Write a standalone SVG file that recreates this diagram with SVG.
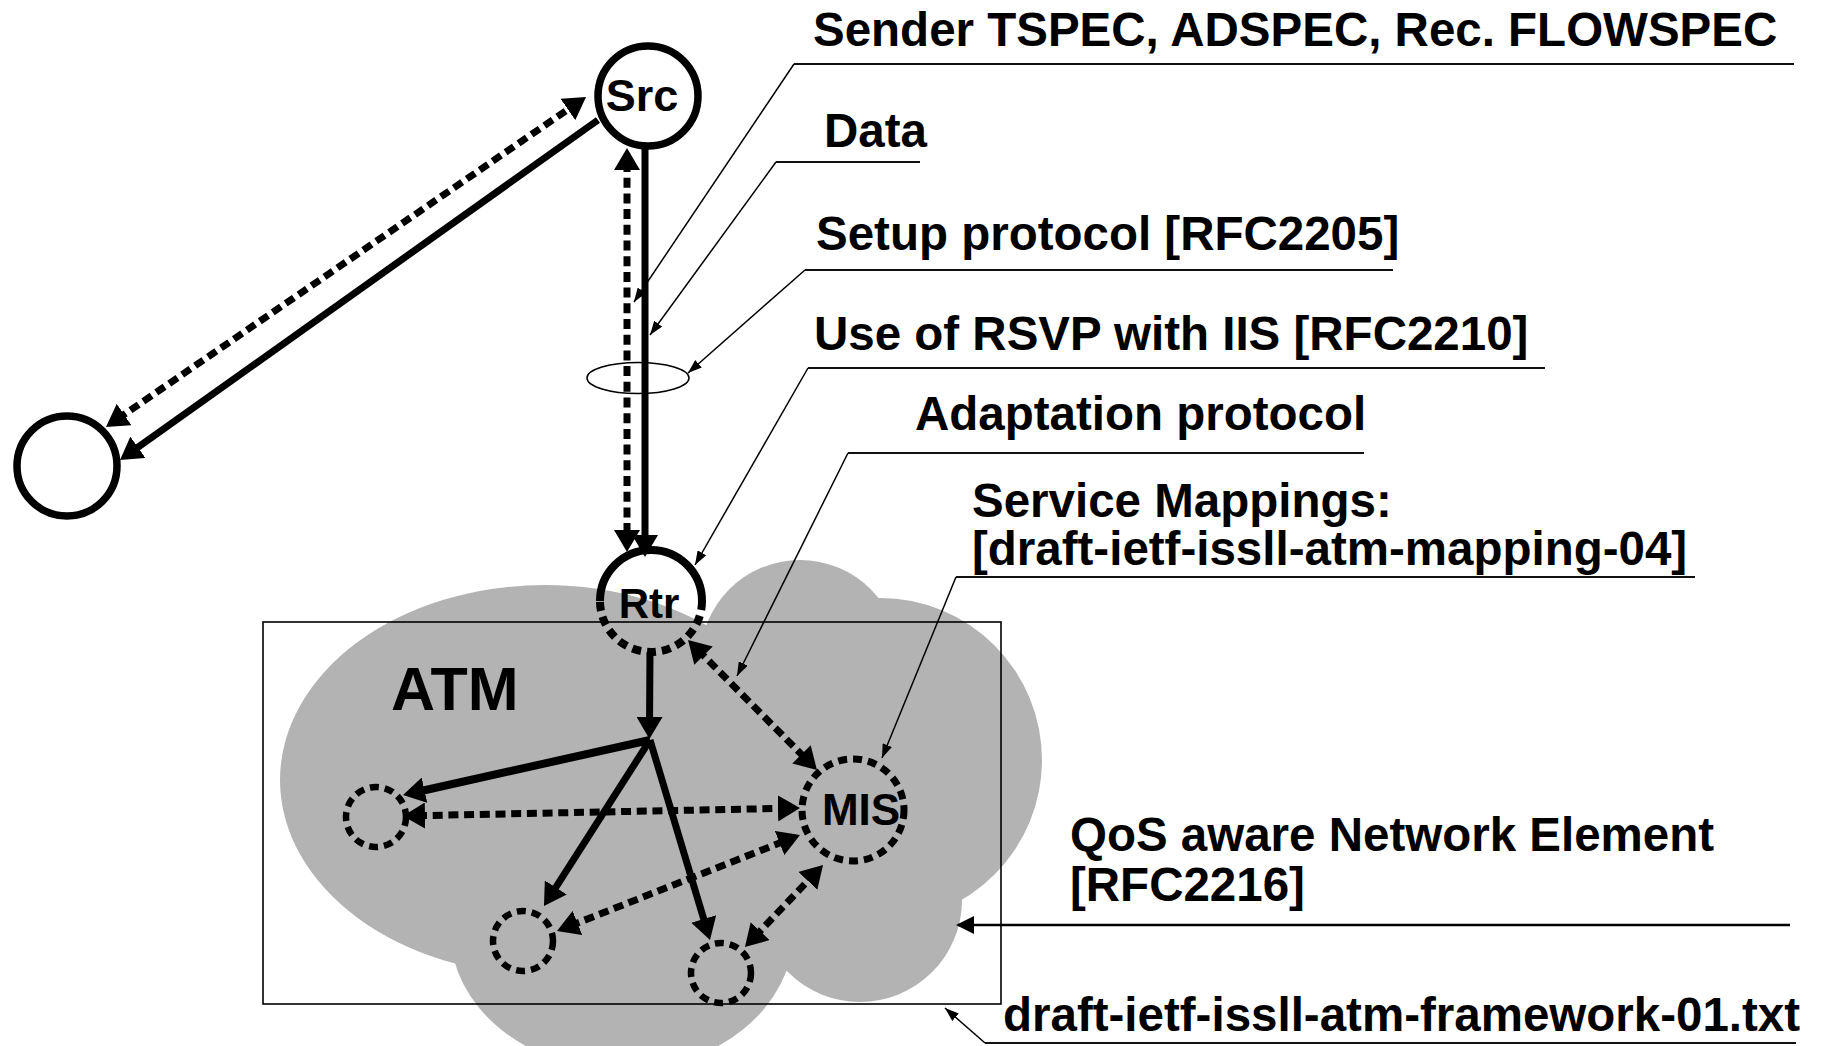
<svg xmlns="http://www.w3.org/2000/svg" width="1830" height="1046" viewBox="0 0 1830 1046">
<style>
text{font-family:"Liberation Sans",Arial,sans-serif;font-weight:bold;fill:#000}
.lbl{font-size:47.5px}
.cloud{fill:#b3b3b3}
.heavy{stroke:#000;stroke-width:7;fill:none}
.dash{stroke:#000;stroke-width:7;fill:none;stroke-dasharray:10 5.7}
.ndash{stroke:#000;stroke-width:6.5;fill:none;stroke-dasharray:9 6}
.under{stroke:#111;stroke-width:2.2;fill:none}
.lead{stroke:#000;stroke-width:1.5;fill:none;marker-end:url(#al)}
.ha{marker-end:url(#ah)}
.hb{marker-start:url(#ah);marker-end:url(#ah)}
</style>
<defs>
<marker id="ah" viewBox="0 0 22 26" markerWidth="22" markerHeight="26" refX="8" refY="13" markerUnits="userSpaceOnUse" orient="auto-start-reverse"><path d="M0,0 L22,13 L0,26 z" fill="#000"/></marker>
<marker id="al" viewBox="0 0 14 10" markerWidth="14" markerHeight="10" refX="14" refY="5" markerUnits="userSpaceOnUse" orient="auto"><path d="M0,0 L14,5 L0,10 z" fill="#000"/></marker>
<marker id="am" viewBox="0 0 18 18" markerWidth="18" markerHeight="18" refX="16" refY="9" markerUnits="userSpaceOnUse" orient="auto"><path d="M0,0 L18,9 L0,18 z" fill="#000"/></marker>
</defs>
<rect width="1830" height="1046" fill="#fff"/>
<g id="atm-cloud" class="cloud">
<ellipse cx="545" cy="780" rx="265" ry="195"/>
<circle cx="800" cy="660" r="100"/>
<circle cx="880" cy="760" r="162"/>
<ellipse cx="622" cy="930" rx="172" ry="140"/>
<circle cx="860" cy="900" r="102"/>
</g>
<rect id="framework-box" x="263" y="622" width="738" height="382" fill="none" stroke="#000" stroke-width="1.6"/>
<g id="connectors">
<line class="heavy ha" x1="598" y1="120" x2="131.4" y2="451.9"/>
<line class="dash hb" x1="117.5" y1="419.1" x2="574.5" y2="104.9"/>
<line class="dash hb" x1="627" y1="162" x2="627" y2="538"/>
<line class="heavy ha" x1="645" y1="146" x2="645" y2="543"/>
<line class="heavy ha" x1="650" y1="652" x2="649.5" y2="725"/>
<line class="heavy ha" x1="650" y1="740" x2="416.7" y2="792" style="stroke-width:8"/>
<line class="heavy ha" x1="650" y1="740" x2="551.5" y2="894.2"/>
<line class="heavy ha" x1="650" y1="740" x2="706" y2="926.6"/>
<line class="dash hb" x1="697.9" y1="649.9" x2="807.1" y2="760.1"/>
<line class="dash hb" x1="417" y1="815.7" x2="786" y2="808.3"/>
<line class="dash hb" x1="570" y1="925.9" x2="787" y2="840.1"/>
<line class="dash hb" x1="754.6" y1="936.9" x2="813.4" y2="875.1"/>
<line x1="1790" y1="925" x2="958" y2="925" stroke="#000" stroke-width="2.7" marker-end="url(#am)"/>
<line class="under" x1="794" y1="64" x2="1794" y2="64"/>
<line class="lead" x1="794" y1="64" x2="634" y2="302"/>
<line class="under" x1="776" y1="162" x2="920" y2="162"/>
<line class="lead" x1="776" y1="162" x2="650" y2="335"/>
<line class="under" x1="805" y1="270" x2="1393" y2="270"/>
<line class="lead" x1="805" y1="270" x2="688" y2="373"/>
<line class="under" x1="808" y1="368" x2="1545" y2="368"/>
<line class="lead" x1="808" y1="368" x2="695" y2="565"/>
<line class="under" x1="848" y1="453" x2="1364" y2="453"/>
<line class="lead" x1="848" y1="453" x2="737" y2="676"/>
<line class="under" x1="956" y1="577" x2="1695" y2="577"/>
<line class="lead" x1="956" y1="577" x2="882" y2="758"/>
<line class="under" x1="985" y1="1043" x2="1796" y2="1043"/>
<line class="lead" x1="985" y1="1043" x2="945" y2="1008"/>
</g>
<g id="flow-ellipse"><ellipse cx="638" cy="378" rx="51" ry="15.5" fill="none" stroke="#000" stroke-width="1.5"/></g>
<g id="node-src">
<circle cx="648" cy="96" r="50" fill="#fff" stroke="#000" stroke-width="7.5"/>
<text x="642" y="111" font-size="45" text-anchor="middle">Src</text>
</g>
<g id="node-host">
<circle cx="67" cy="466" r="50" fill="#fff" stroke="#000" stroke-width="7.5"/>
</g>
<g id="node-rtr">
<path d="M600,601 A51,51 0 0 1 702,601" fill="none" stroke="#000" stroke-width="8"/>
<path d="M702,601 A51,51 0 0 1 600,601" class="ndash" style="stroke-width:8"/>
<text x="649" y="618" font-size="42" text-anchor="middle">Rtr</text>
</g>
<g id="node-mis">
<circle cx="853" cy="810" r="51" class="ndash" style="stroke-width:7"/>
<text x="861" y="825" font-size="44" text-anchor="middle">MIS</text>
</g>
<g id="node-e1"><circle cx="376" cy="817" r="30" class="ndash"/></g>
<g id="node-e2"><circle cx="523" cy="941" r="30" class="ndash"/></g>
<g id="node-e3"><circle cx="721" cy="973" r="30" class="ndash"/></g>
<g id="labels">
<text x="391" y="710" font-size="61">ATM</text>
<text class="lbl" x="813" y="46">Sender TSPEC, ADSPEC, Rec. FLOWSPEC</text>
<text class="lbl" x="824" y="147">Data</text>
<text class="lbl" x="816" y="250">Setup protocol [RFC2205]</text>
<text class="lbl" x="814" y="350">Use of RSVP with IIS [RFC2210]</text>
<text class="lbl" x="915" y="430">Adaptation protocol</text>
<text class="lbl" x="972" y="517">Service Mappings:<tspan x="972" y="565">[draft-ietf-issll-atm-mapping-04]</tspan></text>
<text class="lbl" x="1070" y="851">QoS aware Network Element<tspan x="1070" y="901">[RFC2216]</tspan></text>
<text class="lbl" x="1003" y="1031">draft-ietf-issll-atm-framework-01.txt</text>
</g>
</svg>
